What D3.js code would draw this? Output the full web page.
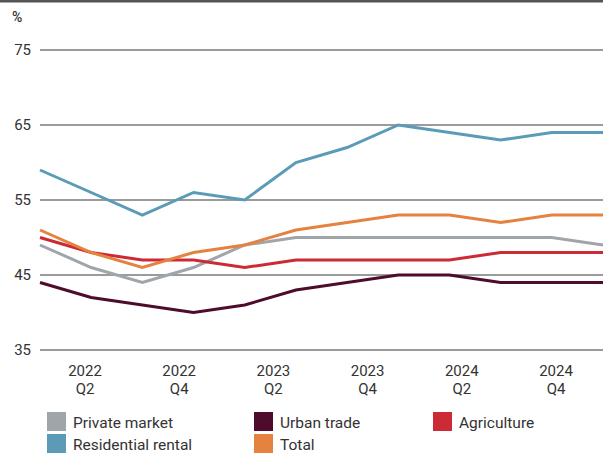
<!DOCTYPE html>
<html>
<head>
<meta charset="utf-8">
<script src="https://cdn.jsdelivr.net/npm/d3@7"></script>
<style>
  html, body { margin: 0; padding: 0; background: #fff; }
  svg { display: block; font-family: "Roboto", "Liberation Sans", sans-serif; }
</style>
</head>
<body>
<svg id="chart" width="603" height="458"></svg>
<script>
// Quarters plotted (2022 Q1 .. 2024 Q4)
const quarters = ["2022 Q1","2022 Q2","2022 Q3","2022 Q4","2023 Q1","2023 Q2","2023 Q3","2023 Q4","2024 Q1","2024 Q2","2024 Q3","2024 Q4"];
const tickLabels = ["2022 Q2","2022 Q4","2023 Q2","2023 Q4","2024 Q2","2024 Q4"];
const yTicks = [35, 45, 55, 65, 75];

const privateMarket     = [49, 46, 44, 46, 49, 50, 50, 50, 50, 50, 50, 49];
const urbanTrade        = [44, 42, 41, 40, 41, 43, 44, 45, 45, 44, 44, 44];
const agriculture       = [50, 48, 47, 47, 46, 47, 47, 47, 47, 48, 48, 48];
const residentialRental = [59, 56, 53, 56, 55, 60, 62, 65, 64, 63, 64, 64];
const total             = [51, 48, 46, 48, 49, 51, 52, 53, 53, 52, 53, 53];

const seriesNames  = ["Private market","Urban trade","Agriculture","Residential rental","Total"];
const seriesValues = [privateMarket, urbanTrade, agriculture, residentialRental, total];
const seriesColors = ["#a0a5aa", "#4e0b2b", "#cc2a34", "#5b9bb8", "#e5823f"];
const drawOrder = [0, 1, 2, 4, 3];

const svg = d3.select("#chart");

// top border
svg.append("rect").attr("x", 0).attr("y", 0).attr("width", 603).attr("height", 2.5).attr("fill", "#555");

const x = d3.scalePoint().domain(quarters).range([40, 603]);
const y = d3.scaleLinear().domain([35, 75]).range([350, 50]);
const xLab = d3.scalePoint().domain(tickLabels).range([85, 556]);

// gridlines
svg.append("g").selectAll("line").data(yTicks).join("line")
  .attr("x1", 40).attr("x2", 603)
  .attr("y1", d => y(d)).attr("y2", d => y(d))
  .attr("stroke", "#9b9b9b").attr("stroke-width", 1.8);

// y labels
svg.append("g").selectAll("text").data(yTicks).join("text")
  .attr("x", 31).attr("y", d => y(d) + 5)
  .attr("text-anchor", "end")
  .attr("font-size", 15).attr("fill", "#333")
  .text(d => d);

svg.append("text").attr("x", 12).attr("y", 22)
  .attr("font-size", 14).attr("font-weight", 500).attr("fill", "#333").text("%");

// x labels
const xg = svg.append("g").selectAll("text").data(tickLabels).join("text")
  .attr("text-anchor", "middle").attr("font-size", 15).attr("fill", "#333");
xg.append("tspan").attr("x", d => xLab(d)).attr("y", 376).text(d => d.split(" ")[0]);
xg.append("tspan").attr("x", d => xLab(d)).attr("y", 394).text(d => d.split(" ")[1]);

// lines
const line = d3.line().x((d, i) => x(quarters[i])).y(d => y(d));
svg.append("g").selectAll("path").data(drawOrder).join("path")
  .attr("d", i => line(seriesValues[i]))
  .attr("fill", "none")
  .attr("stroke", i => seriesColors[i])
  .attr("stroke-width", 3)
  .attr("stroke-linejoin", "miter");

// legend
const legendPos = [
  {x: 47, y: 412}, {x: 254, y: 412}, {x: 433, y: 412},
  {x: 47, y: 434}, {x: 254, y: 434}
];
const lg = svg.append("g").selectAll("g").data(seriesNames).join("g")
  .attr("transform", (d, i) => `translate(${legendPos[i].x},${legendPos[i].y})`);
lg.append("rect").attr("width", 19).attr("height", 19).attr("fill", (d, i) => seriesColors[i]);
lg.append("text").attr("x", 26).attr("y", 15.5)
  .attr("font-size", 15.5).attr("fill", "#333").text(d => d);
</script>
</body>
</html>
